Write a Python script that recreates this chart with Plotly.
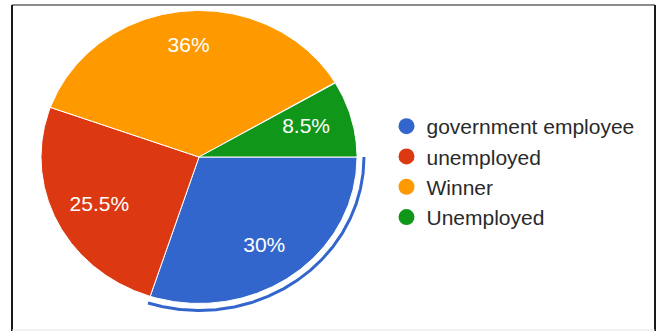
import numpy as np
import plotly.graph_objects as go

# ---- data ----
labels = ["government employee", "unemployed", "Winner", "Unemployed"]
shares = [30.0, 25.5, 36.0, 8.5]
colors = ["#3366cc", "#dc3912", "#ff9900", "#109618"]
highlighted = "government employee"

# ---- page / pie geometry (pixels) ----
W, H = 661, 331
CX, CY = 199, 157          # pie centre
RX, RY = 158, 146.5        # horizontal / vertical radius
RING_GAP = 7               # distance of the highlight arc from the slice edge
LABEL_PX = 111             # label distance from the centre, in pixels
FONT = "Liberation Sans, Arial, sans-serif"

# axis units: centre at (0, 0), one unit = one radius
x_range = [-CX / RX, (W - CX) / RX]
y_range = [-(H - CY) / RY, CY / RY]

total = float(sum(shares))
bounds = np.concatenate([[0.0], np.cumsum(shares)]) / total * 2 * np.pi


def arc(a0, a1, sx=1.0, sy=1.0, n=240):
    # clockwise from 3 o'clock
    t = np.linspace(a0, a1, n)
    return sx * np.cos(t), -sy * np.sin(t)


fig = go.Figure()

for i, (lab, val, col) in enumerate(zip(labels, shares, colors)):
    ax, ay = arc(bounds[i], bounds[i + 1])
    fig.add_trace(go.Scatter(
        x=np.concatenate([[0], ax, [0]]),
        y=np.concatenate([[0], ay, [0]]),
        mode="lines", fill="toself", fillcolor=col,
        line=dict(color="white", width=1),
        hoverinfo="skip", showlegend=False,
    ))

# highlight arc outside the selected slice
k = labels.index(highlighted)
hx, hy = arc(bounds[k], bounds[k + 1], 1 + RING_GAP / RX, 1 + RING_GAP / RY)
fig.add_trace(go.Scatter(
    x=hx, y=hy, mode="lines",
    line=dict(color=colors[k], width=3),
    hoverinfo="skip", showlegend=False,
))

# percentage labels on a circle (in pixels) through the slice middles
mids = (bounds[:-1] + bounds[1:]) / 2
fig.add_trace(go.Scatter(
    x=LABEL_PX / RX * np.cos(mids), y=-LABEL_PX / RY * np.sin(mids),
    mode="text", text=[f"{v:g}%" for v in shares],
    textposition="middle center",
    textfont=dict(family=FONT, size=21, color="white"),
    hoverinfo="skip", showlegend=False,
))

# legend entries
for lab, col in zip(labels, colors):
    fig.add_trace(go.Scatter(
        x=[None], y=[None], mode="markers", name=lab,
        marker=dict(color=col, size=16, symbol="circle"),
        legendgroup=lab,
    ))

frame = [
    dict(x0=12 / W, x1=655 / W, y0=1 - 5 / H, y1=1 - 5 / H, color="#8c8c8c", width=2),
    dict(x0=12 / W, x1=12 / W, y0=1 - 5 / H, y1=0, color="#1a1a1a", width=2),
    dict(x0=655 / W, x1=655 / W, y0=1 - 5 / H, y1=0, color="#1a1a1a", width=2),
    dict(x0=12 / W, x1=655 / W, y0=1 / H, y1=1 / H, color="#e4e4e4", width=1),
]
shapes = [
    dict(type="line", xref="paper", yref="paper",
         x0=f["x0"], x1=f["x1"], y0=f["y0"], y1=f["y1"],
         line=dict(color=f["color"], width=f["width"]))
    for f in frame
]

fig.update_layout(
    width=W, height=H, autosize=False,
    margin=dict(l=0, r=0, t=0, b=0),
    paper_bgcolor="white", plot_bgcolor="white",
    xaxis=dict(range=x_range, visible=False, fixedrange=True),
    yaxis=dict(range=y_range, visible=False, fixedrange=True),
    shapes=shapes,
    showlegend=True,
    legend=dict(
        x=386.5 / W, xanchor="left",
        y=1 - 106 / H, yanchor="top",
        font=dict(family=FONT, size=21, color="#2a2a2a"),
        bgcolor="rgba(0,0,0,0)",
        itemsizing="trace", tracegroupgap=0,
        traceorder="normal",
    ),
    hovermode=False,
)

fig.write_html("out.html")
